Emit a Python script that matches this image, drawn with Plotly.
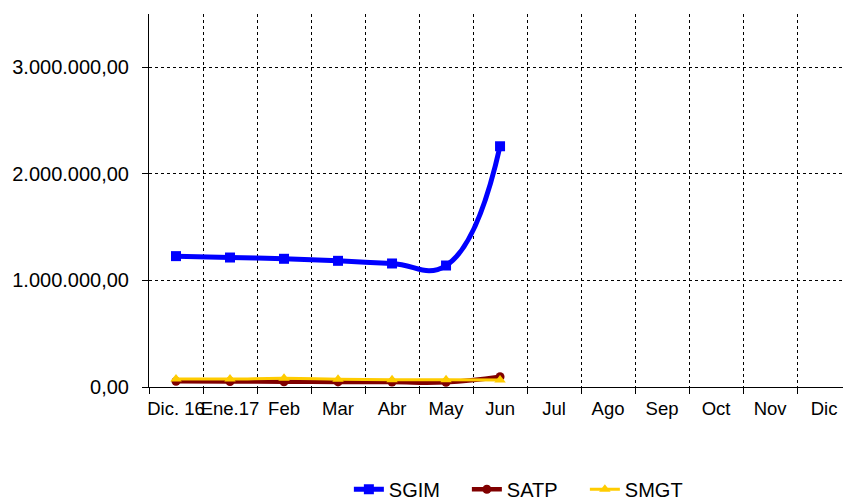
import plotly.graph_objects as go

categories = ["Dic. 16", "Ene.17", "Feb", "Mar", "Abr", "May", "Jun",
              "Jul", "Ago", "Sep", "Oct", "Nov", "Dic"]
months_with_data = categories[:7]
sgim = [1228000, 1215000, 1203000, 1184000, 1159000, 1140000, 2259000]
satp = [53000, 52000, 49000, 48000, 46000, 45000, 97000]
smgt = [75000, 75000, 81000, 73000, 68000, 68000, 66000]
ytick_vals = [0, 1000000, 2000000, 3000000]

FONT = "Liberation Sans, Arial, sans-serif"

fig = go.Figure()
fig.add_trace(go.Scatter(
    x=months_with_data, y=sgim, name="SGIM", mode="lines+markers",
    line=dict(color="#0000FF", width=5, shape="spline", smoothing=1.3),
    marker=dict(symbol="square", size=10, color="#0000FF")))
fig.add_trace(go.Scatter(
    x=months_with_data, y=satp, name="SATP", mode="lines+markers",
    line=dict(color="#800000", width=4.5, shape="spline", smoothing=1.3),
    marker=dict(symbol="circle", size=9, color="#800000")))
fig.add_trace(go.Scatter(
    x=months_with_data, y=smgt, name="SMGT", mode="lines+markers",
    line=dict(color="#FFCC00", width=3, shape="spline", smoothing=1.3),
    marker=dict(symbol="triangle-up", size=10, color="#FFCC00")))

fig.update_layout(
    width=843, height=500,
    margin=dict(l=149, r=0, t=14, b=113, autoexpand=False),
    paper_bgcolor="white", plot_bgcolor="white",
    font=dict(family=FONT, size=19, color="black"),
    separators=",.",
    showlegend=True,
    legend=dict(orientation="h", x=0.288, xanchor="left", y=-0.222, yanchor="top",
                font=dict(size=20), itemwidth=30, entrywidth=73,
                entrywidthmode="pixels", tracegroupgap=0,
                bgcolor="rgba(0,0,0,0)"),
)
fig.update_xaxes(
    type="category", categoryorder="array", categoryarray=categories,
    range=[-0.5, 12.35], tickson="boundaries", tickangle=0, automargin=False,
    showgrid=True, gridcolor="black", griddash="dot", gridwidth=1,
    showline=True, linecolor="black", linewidth=1,
    ticks="outside", ticklen=6, tickcolor="black", ticklabelstandoff=5,
    tickfont=dict(size=18.5), zeroline=False,
)
fig.update_yaxes(
    range=[0, 3500000], tickvals=ytick_vals, tickformat=",.2f", automargin=False,
    showgrid=True, gridcolor="black", griddash="dot", gridwidth=1,
    showline=True, linecolor="black", linewidth=1,
    ticks="outside", ticklen=6, tickcolor="black", ticklabelstandoff=9,
    tickfont=dict(size=20), zeroline=False,
)

# remove the default page margin so the 843x500 figure fills the window exactly
fig.write_html("out.html",
               config={"displayModeBar": False},
               post_script="document.body.style.margin='0';document.body.style.overflow='hidden';")
